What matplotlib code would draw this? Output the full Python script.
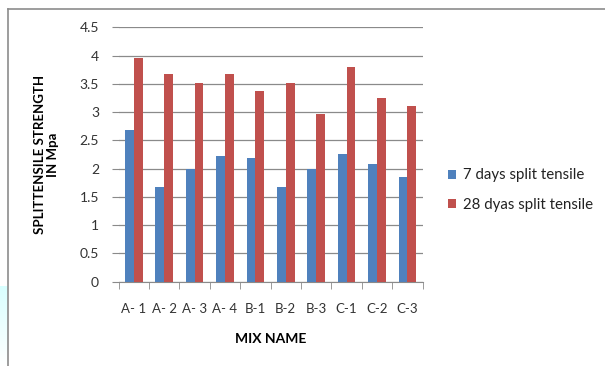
import matplotlib
matplotlib.use("Agg")
import matplotlib.pyplot as plt
import numpy as np
from matplotlib.lines import Line2D

categories = ["A- 1", "A- 2", "A- 3", "A- 4", "B-1", "B-2", "B-3", "C-1", "C-2", "C-3"]
days7 = [2.68, 1.67, 1.99, 2.22, 2.19, 1.67, 1.99, 2.26, 2.08, 1.85]
days28 = [3.96, 3.68, 3.52, 3.68, 3.38, 3.52, 2.97, 3.80, 3.25, 3.11]
series_names = ["7 days split tensile", "28 dyas split tensile"]
yticks = [0, 0.5, 1, 1.5, 2, 2.5, 3, 3.5, 4, 4.5]
ytick_labels = ["0", "0.5", "1", "1.5", "2", "2.5", "3", "3.5", "4", "4.5"]

plt.rcParams['font.family'] = ['Lato', 'DejaVu Sans']

W, H = 605, 366
fig = plt.figure(figsize=(W / 100, H / 100), dpi=100)
fig.patch.set_facecolor("white")

# light cyan gradient at bottom-left outside the frame
grad = np.linspace(0, 1, 100).reshape(-1, 1)
gax = fig.add_axes([0, 0, 8 / W, 80 / H])
gax.imshow(np.dstack([0.85 + 0.15 * grad, np.ones_like(grad), np.ones_like(grad)]),
           aspect="auto", extent=[0, 1, 0, 1])
gax.axis("off")

# frame lines (top and left)
fig.add_artist(Line2D([8 / W, 1], [1 - 9 / H, 1 - 9 / H], color="#8c8c8c", lw=1.2))
fig.add_artist(Line2D([8 / W, 8 / W], [0, 1 - 9 / H], color="#8c8c8c", lw=1.2))

left, right = 118.5, 422.7
top, bottom = 27.3, 281.7
ax = fig.add_axes([left / W, 1 - bottom / H, (right - left) / W, (bottom - top) / H])

x = np.arange(len(categories))
w = 0.29
ax.bar(x - w / 2, days7, width=w, color="#4F81BD", label=series_names[0], zorder=3)
ax.bar(x + w / 2, days28, width=w, color="#C0504D", label=series_names[1], zorder=3)

ax.set_xlim(-0.5, len(categories) - 0.5)
ax.set_ylim(0, 4.5)
ax.set_yticks(yticks)
ax.set_yticklabels(ytick_labels, fontsize=10, color="#333333")
ax.yaxis.grid(True, color="#8a8a8a", lw=0.9, zorder=0)
ax.set_axisbelow(True)

ax.set_xticks(x)
ax.set_xticklabels(categories, fontsize=9.5, color="#333333")
ax.set_xticks(np.arange(-0.5, len(categories), 1), minor=True)
ax.tick_params(axis="x", which="major", length=0, pad=15)
ax.tick_params(axis="x", which="minor", length=5, color="#8a8a8a", direction="out")
ax.tick_params(axis="y", length=5, color="#8a8a8a", pad=9)

for s in ["top", "right", "left"]:
    ax.spines[s].set_visible(False)
ax.spines["bottom"].set_color("#8a8a8a")

ax.set_xlabel("MIX NAME", fontsize=10, fontweight="bold", labelpad=13)
ax.set_ylabel("SPLITTENSILE STRENGTH\nIN Mpa", fontsize=9.5, fontweight="bold", labelpad=15,
              linespacing=1.1)

leg = fig.legend(loc="center left", bbox_to_anchor=(434 / W, 1 - 190 / H), frameon=False,
                 fontsize=10.8, handlelength=0.55, handleheight=0.55, handletextpad=0.5,
                 labelspacing=1.0)
for t in leg.get_texts():
    t.set_color("#222222")

fig.savefig("out.png", dpi=100, facecolor="white")
